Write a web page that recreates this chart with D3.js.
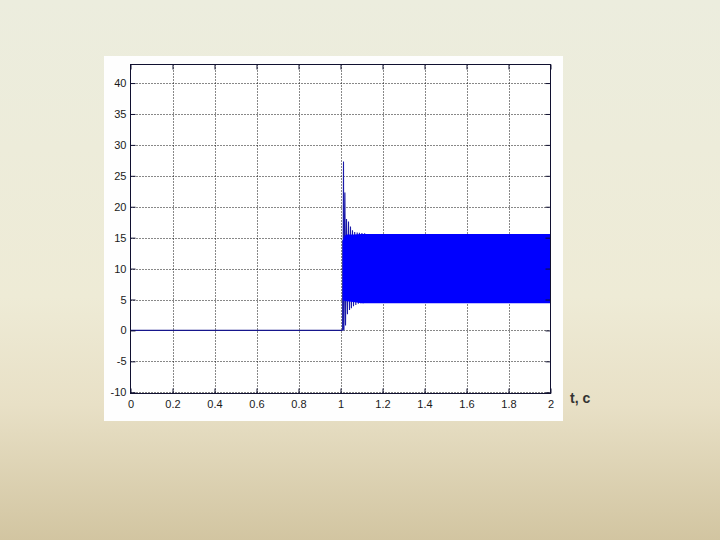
<!DOCTYPE html>
<html>
<head>
<meta charset="utf-8">
<script src="https://cdn.jsdelivr.net/npm/d3@7/dist/d3.min.js"></script>
<style>
  html, body { margin: 0; padding: 0; }
  body { width: 720px; height: 540px; overflow: hidden; }
  text { font-family: "Liberation Sans", Arial, sans-serif; }
</style>
</head>
<body>
<div id="slide"></div>
<script>
// ---- data ----
var xTicks = [0, 0.2, 0.4, 0.6, 0.8, 1, 1.2, 1.4, 1.6, 1.8, 2];
var yTicks = [-10, -5, 0, 5, 10, 15, 20, 25, 30, 35, 40];
var xLabels = ["0", "0.2", "0.4", "0.6", "0.8", "1", "1.2", "1.4", "1.6", "1.8", "2"];
var yLabels = ["-10", "-5", "0", "5", "10", "15", "20", "25", "30", "35", "40"];
var xDomain = [0, 2];
var yDomain = [-10.2, 43];

// before the switching moment the signal is zero
var preT = [0, 1.0, 1.010];
var preV = [0, 0, 0];

// transient after t = 1 s : alternating peaks and dips
var transT = [1.010, 1.0105, 1.0115, 1.0143, 1.0165, 1.0210, 1.0240, 1.0286, 1.0330, 1.0381, 1.0430, 1.0476, 1.0520, 1.0571, 1.0620, 1.0676, 1.0730, 1.0795, 1.0850, 1.0900, 1.0960, 1.1020, 1.1080, 1.1150];
var transV = [0,     14.6,   0.1,    27.3,   0.0,    22.3,   0.8,    18.0,   2.6,    17.6,   3.3,    16.8,   3.6,    16.2,   3.9,    15.9,   4.1,    15.85,  4.3,    15.8,   4.4,    15.75,  4.4,    15.7];

// fast oscillation band (envelopes)
var bandT     = [1.011, 1.016, 1.022, 1.03, 1.06, 1.1, 2.0];
var bandUpper = [14.6,  15.0,  15.4,  15.5, 15.5, 15.6, 15.6];
var bandLower = [5.0,   4.8,   4.8,   4.7,  4.6,  4.4,  4.4];

// ---- drawing ----
var W = 720, H = 540;
var svg = d3.select('#slide').append('svg').attr('width', W).attr('height', H);

var defs = svg.append('defs');
var grad = defs.append('linearGradient').attr('id', 'bg').attr('x1', 0).attr('y1', 0).attr('x2', 0).attr('y2', 1);
grad.append('stop').attr('offset', '0%').attr('stop-color', '#ecedde');
grad.append('stop').attr('offset', '55%').attr('stop-color', '#eeebd6');
grad.append('stop').attr('offset', '75%').attr('stop-color', '#e8e0c6');
grad.append('stop').attr('offset', '100%').attr('stop-color', '#d2c5a1');
svg.append('rect').attr('width', W).attr('height', H).attr('fill', 'url(#bg)');

// white figure panel
svg.append('rect').attr('x', 104).attr('y', 56).attr('width', 459).attr('height', 365).attr('fill', '#fefefe');

var L = 130.5, R = 550.5, T = 64.5, B = 393.5;
var x = d3.scaleLinear().domain(xDomain).range([L, R]);
var y = d3.scaleLinear().domain(yDomain).range([B, T]);

var plot = svg.append('g');
plot.append('rect').attr('x', L).attr('y', T).attr('width', R - L).attr('height', B - T).attr('fill', '#ffffff');

// grid (dotted, matlab style)
var grid = plot.append('g').attr('stroke', '#111').attr('stroke-width', 1).attr('stroke-dasharray', '1,2');
grid.selectAll('.gx').data(xTicks.slice(1, -1)).enter().append('line')
    .attr('x1', function(d){ return Math.round(x(d)) + 0.5; })
    .attr('x2', function(d){ return Math.round(x(d)) + 0.5; })
    .attr('y1', T).attr('y2', B);
grid.selectAll('.gy').data(yTicks).enter().append('line')
    .attr('y1', function(d){ return Math.round(y(d)) + 0.5; })
    .attr('y2', function(d){ return Math.round(y(d)) + 0.5; })
    .attr('x1', L).attr('x2', R);

// signal: lines first, band on top so that only spikes outside it show
var line = d3.line().x(function(d){ return x(d[0]); }).y(function(d){ return y(d[1]); });
var prePts = preT.map(function(t, i){ return [t, preV[i]]; });
var trPts = transT.map(function(t, i){ return [t, transV[i]]; });
plot.append('path').datum(prePts).attr('d', line)
    .attr('fill', 'none').attr('stroke', '#16168c').attr('stroke-width', 1.2);
plot.append('path').datum(trPts).attr('d', line)
    .attr('fill', 'none').attr('stroke', '#1a1aa8').attr('stroke-width', 1.1);

var area = d3.area()
    .x(function(d, i){ return x(bandT[i]); })
    .y0(function(d, i){ return y(bandLower[i]); })
    .y1(function(d, i){ return y(bandUpper[i]); });
plot.append('path').datum(bandT).attr('d', area).attr('fill', '#0000ff');

// axes (ticks inside, on all four sides)
var tickLen = 5;
var axB = d3.axisBottom(x).tickValues(xTicks).tickSize(tickLen).tickFormat(function(d, i){ return xLabels[i]; });
var axL = d3.axisLeft(y).tickValues(yTicks).tickSize(tickLen).tickFormat(function(d, i){ return yLabels[i]; });

var gB = svg.append('g').attr('transform', 'translate(0,' + B + ')').call(axB);
gB.selectAll('line').attr('y2', -tickLen);
gB.selectAll('text').attr('y', 7).attr('dy', '0.71em');
var gL = svg.append('g').attr('transform', 'translate(' + L + ',0)').call(axL);
gL.selectAll('line').attr('x2', tickLen);
gL.selectAll('text').attr('x', -4);

var gT = svg.append('g').attr('transform', 'translate(0,' + T + ')').call(d3.axisTop(x).tickValues(xTicks).tickSize(tickLen).tickFormat(''));
gT.selectAll('line').attr('y2', tickLen);
var gR = svg.append('g').attr('transform', 'translate(' + R + ',0)').call(d3.axisRight(y).tickValues(yTicks).tickSize(tickLen).tickFormat(''));
gR.selectAll('line').attr('x2', -tickLen);

[gB, gL, gT, gR].forEach(function(g){
  g.select('.domain').remove();
  g.selectAll('line').attr('stroke', '#101030');
  g.selectAll('text').attr('font-size', 11).attr('fill', '#1a1a1a')
    .attr('font-family', '"Liberation Sans", Arial, sans-serif');
});

// box
svg.append('rect').attr('x', L).attr('y', T).attr('width', R - L).attr('height', B - T)
   .attr('fill', 'none').attr('stroke', '#101030').attr('stroke-width', 1);

// axis unit label
svg.append('text').attr('x', 570).attr('y', 403).text('t, c')
   .attr('font-size', 14).attr('font-weight', 'bold').attr('fill', '#333');
</script>
</body>
</html>
